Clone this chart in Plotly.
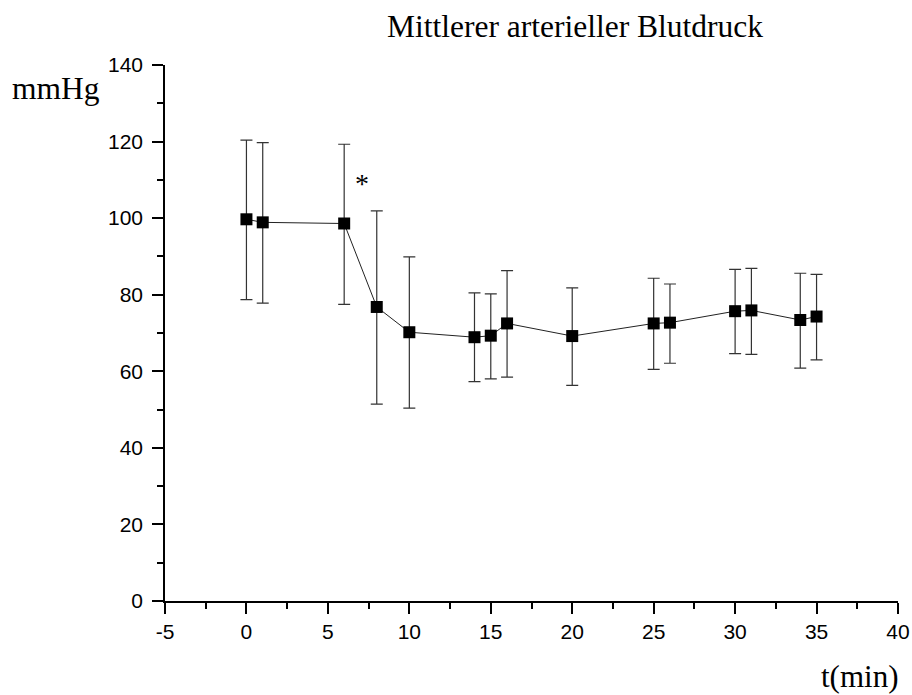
import plotly.graph_objects as go

# Data
t_min = [0, 1, 6, 8, 10, 14, 15, 16, 20, 25, 26, 30, 31, 34, 35]
map_mean = [99.7, 98.9, 98.6, 76.8, 70.2, 68.9, 69.3, 72.5, 69.2, 72.5, 72.7, 75.7, 75.9, 73.4, 74.3]
upper = [120.4, 119.7, 119.3, 101.9, 89.9, 80.5, 80.2, 86.3, 81.8, 84.3, 82.8, 86.6, 86.9, 85.6, 85.3]
lower = [78.7, 77.8, 77.5, 51.4, 50.4, 57.3, 58.0, 58.5, 56.3, 60.5, 62.1, 64.6, 64.4, 60.8, 63.0]

x_tick_vals = [-5, 0, 5, 10, 15, 20, 25, 30, 35, 40]
x_tick_text = ["-5", "0", "5", "10", "15", "20", "25", "30", "35", "40"]

err_plus = [u - m for u, m in zip(upper, map_mean)]
err_minus = [m - l for m, l in zip(map_mean, lower)]

title_text = "Mittlerer arterieller Blutdruck"
y_label = "mmHg"
x_label = "t(min)"
sig_marker = {"x": 7.1, "y": 109.7, "text": "*"}

serif = "Liberation Serif, Times New Roman, serif"
sans = "Liberation Sans, Arial, sans-serif"

fig = go.Figure()
fig.add_trace(go.Scatter(
    x=t_min, y=map_mean,
    mode="lines+markers",
    line=dict(color="#222222", width=1),
    marker=dict(symbol="square", size=12, color="black"),
    error_y=dict(type="data", symmetric=False, array=err_plus, arrayminus=err_minus,
                 color="#333333", thickness=1.2, width=6),
    showlegend=False,
))

fig.update_layout(
    width=912, height=695,
    margin=dict(l=165, r=14, t=65, b=94),
    paper_bgcolor="white", plot_bgcolor="white",
    font=dict(family=sans, size=21, color="black"),
    annotations=[
        dict(text=title_text, xref="paper", yref="paper", x=0.819, y=1.071,
             showarrow=False, xanchor="right", yanchor="middle",
             font=dict(family=serif, size=31.5, color="black")),
        dict(text=y_label, xref="paper", yref="paper", x=-0.212, y=0.957,
             showarrow=False, xanchor="left", yanchor="middle",
             font=dict(family=serif, size=31.5, color="black")),
        dict(text=x_label, xref="paper", yref="paper", x=1.004, y=-0.140,
             showarrow=False, xanchor="right", yanchor="middle",
             font=dict(family=serif, size=31, color="black")),
        dict(text=sig_marker["text"], x=sig_marker["x"], y=sig_marker["y"],
             xref="x", yref="y", showarrow=False, xanchor="center", yanchor="middle",
             yshift=-2, font=dict(family=serif, size=28, color="black")),
    ],
)

fig.update_xaxes(
    range=[-5, 40], tickvals=x_tick_vals, ticktext=x_tick_text,
    automargin=False, ticklabeloverflow="allow",
    showgrid=False, zeroline=False,
    showline=True, linecolor="black", linewidth=1.5,
    ticks="outside", ticklen=11, tickwidth=1.5, tickcolor="black",
    minor=dict(dtick=2.5, tick0=-5, ticks="outside", ticklen=6, tickwidth=1.5, tickcolor="black", showgrid=False),
    tickfont=dict(family=sans, size=21),
)
fig.update_yaxes(
    range=[0, 140], dtick=20, tick0=0,
    automargin=False, ticklabelstandoff=5,
    showgrid=False, zeroline=False,
    showline=True, linecolor="black", linewidth=1.5,
    ticks="outside", ticklen=11, tickwidth=1.5, tickcolor="black",
    minor=dict(dtick=10, tick0=0, ticks="outside", ticklen=6, tickwidth=1.5, tickcolor="black", showgrid=False),
    tickfont=dict(family=sans, size=21),
)

fig.write_html("out.html")
